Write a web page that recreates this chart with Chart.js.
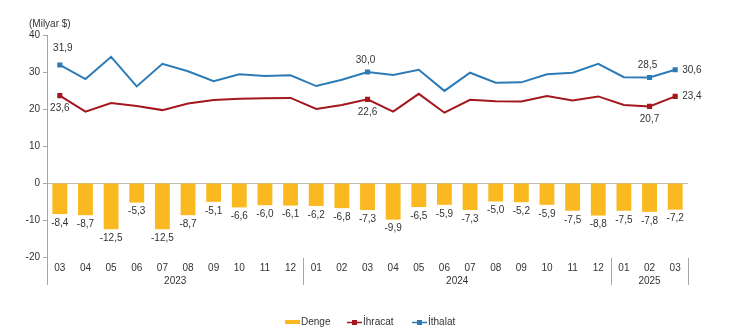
<!DOCTYPE html>
<html>
<head>
<meta charset="utf-8">
<script src="https://cdn.jsdelivr.net/npm/chart.js@4"></script>
<style>
  html, body { margin: 0; padding: 0; background: #fff; }
  canvas { display: block; }
</style>
</head>
<body>
<canvas id="dis" width="730" height="333"></canvas>
<script>
// aylar ve yillar
var months = ['03', '04', '05', '06', '07', '08', '09', '10', '11', '12',
              '01', '02', '03', '04', '05', '06', '07', '08', '09', '10', '11', '12',
              '01', '02', '03'];
var years = [
    { label: '2023', from: 0, to: 9 },
    { label: '2024', from: 10, to: 21 },
    { label: '2025', from: 22, to: 24 }
];

// milyar $
var denge = [-8.4, -8.7, -12.5, -5.3, -12.5, -8.7, -5.1, -6.6, -6.0, -6.1,
             -6.2, -6.8, -7.3, -9.9, -6.5, -5.9, -7.3, -5.0, -5.2, -5.9, -7.5, -8.8,
             -7.5, -7.8, -7.2];
var ihracat = [23.6, 19.3, 21.6, 20.8, 19.7, 21.5, 22.4, 22.8, 22.9, 23.0,
               20.0, 21.1, 22.6, 19.3, 24.1, 19.0, 22.5, 22.1, 22.0, 23.5, 22.3, 23.4,
               21.1, 20.7, 23.4];
var ithalat = [31.9, 28.1, 34.1, 26.1, 32.2, 30.2, 27.5, 29.4, 28.9, 29.1,
               26.2, 27.9, 30.0, 29.2, 30.6, 24.9, 29.8, 27.1, 27.2, 29.4, 29.8, 32.2,
               28.6, 28.5, 30.6];

// sadece bu noktalarda etiket ve isaret var
var marked = [0, 12, 23, 24];

var FONT = '10px "Liberation Sans", Arial, sans-serif';
var TEXT = '#333';
var C_DENGE = '#FBB921';
var C_IHR = '#A3171D';
var C_ITH = '#2C7BB6';

function fmt(v) {
    return v.toFixed(1).replace('.', ',');
}

function radii() {
    return months.map(function (m, i) { return marked.indexOf(i) >= 0 ? 2.2 : 0; });
}

var extras = {
    id: 'extras',
    afterDatasetsDraw: function (chart) {
        var c = chart.ctx;
        c.save();
        c.font = FONT;
        c.fillStyle = TEXT;

        // bar etiketleri
        var bars = chart.getDatasetMeta(0).data;
        c.textAlign = 'center';
        c.textBaseline = 'middle';
        bars.forEach(function (b, i) {
            c.fillText(fmt(denge[i]), b.x, b.y + 9);
        });

        // cizgi etiketleri
        var ihr = chart.getDatasetMeta(1).data;
        var ith = chart.getDatasetMeta(2).data;
        marked.forEach(function (i) {
            if (i === months.length - 1) {
                c.textAlign = 'left';
                c.fillText(fmt(ithalat[i]), ith[i].x + 7, ith[i].y);
                c.fillText(fmt(ihracat[i]), ihr[i].x + 7, ihr[i].y);
                c.textAlign = 'center';
            } else {
                c.fillText(fmt(ithalat[i]), ith[i].x + (i === 0 ? 3 : -2), ith[i].y - (i === 0 ? 17 : 12));
                c.fillText(fmt(ihracat[i]), ihr[i].x, ihr[i].y + 13);
            }
        });
        c.restore();
    },
    afterDraw: function (chart) {
        var c = chart.ctx;
        var x = chart.scales.x;
        var area = chart.chartArea;
        var step = x.getPixelForValue(1) - x.getPixelForValue(0);
        c.save();

        // birim
        c.font = FONT;
        c.fillStyle = TEXT;
        c.textAlign = 'left';
        c.textBaseline = 'middle';
        c.fillText('(Milyar $)', 29, 24);

        // yil gruplari ve ayiricilar
        c.strokeStyle = '#A6A6A6';
        c.lineWidth = 1;
        c.beginPath();
        c.moveTo(area.left + 0.5, area.bottom);
        c.lineTo(area.left + 0.5, 285);
        years.forEach(function (y) {
            var xe = Math.round(x.getPixelForValue(y.to) + step / 2) + 0.5;
            c.moveTo(xe, area.bottom + 1);
            c.lineTo(xe, 285);
        });
        c.stroke();

        c.textAlign = 'center';
        years.forEach(function (y) {
            var cx = (x.getPixelForValue(y.from) + x.getPixelForValue(y.to)) / 2;
            c.fillText(y.label, cx, 281);
        });

        // lejant
        var ly = 322;
        c.textAlign = 'left';
        c.fillStyle = C_DENGE;
        c.fillRect(285, ly - 2, 15, 4);
        c.fillStyle = TEXT;
        c.fillText(chart.data.datasets[0].label, 301, ly);

        [[347, C_IHR, 1], [412, C_ITH, 2]].forEach(function (it) {
            c.strokeStyle = it[1];
            c.lineWidth = 1.5;
            c.beginPath();
            c.moveTo(it[0], ly + 0.5);
            c.lineTo(it[0] + 15, ly + 0.5);
            c.stroke();
            c.fillStyle = it[1];
            c.fillRect(it[0] + 5, ly - 2, 5, 5);
            c.fillStyle = TEXT;
            c.fillText(chart.data.datasets[it[2]].label, it[0] + 16, ly);
        });
        c.restore();
    }
};

var ctx = document.getElementById('dis');
var dis = new Chart(ctx, {
    type: 'bar',
    data: {
        labels: months,
        datasets: [{
            label: 'Denge',
            data: denge,
            backgroundColor: C_DENGE,
            categoryPercentage: 1,
            barPercentage: 0.58,
            order: 3
        }, {
            type: 'line',
            label: 'İhracat',
            data: ihracat,
            borderColor: C_IHR,
            backgroundColor: C_IHR,
            borderWidth: 2,
            tension: 0,
            pointStyle: 'rect',
            pointRadius: radii(),
            order: 1
        }, {
            type: 'line',
            label: 'İthalat',
            data: ithalat,
            borderColor: C_ITH,
            backgroundColor: C_ITH,
            borderWidth: 2,
            tension: 0,
            pointStyle: 'rect',
            pointRadius: radii(),
            order: 2
        }]
    },
    options: {
        responsive: false,
        animation: false,
        layout: {
            padding: { top: 35, right: 42, left: 0, bottom: 0 }
        },
        plugins: {
            legend: { display: false },
            tooltip: { enabled: false }
        },
        scales: {
            x: {
                grid: { display: false, drawTicks: false },
                border: { display: false },
                ticks: {
                    color: TEXT,
                    font: { family: '"Liberation Sans", Arial, sans-serif', size: 10 },
                    padding: 5,
                    maxRotation: 0,
                    autoSkip: false
                },
                afterFit: function (s) { s.height = 76; }
            },
            y: {
                min: -20,
                max: 40,
                ticks: {
                    stepSize: 10,
                    color: TEXT,
                    font: { family: '"Liberation Sans", Arial, sans-serif', size: 10 },
                    padding: 3
                },
                grid: {
                    color: function (c) { return c.tick && c.tick.value === 0 ? '#BFBFBF' : 'transparent'; },
                    tickColor: '#A6A6A6',
                    tickLength: 4
                },
                border: { display: true, color: '#A6A6A6' },
                afterFit: function (s) { s.width = 47; }
            }
        }
    },
    plugins: [extras]
});
</script>
</body>
</html>
